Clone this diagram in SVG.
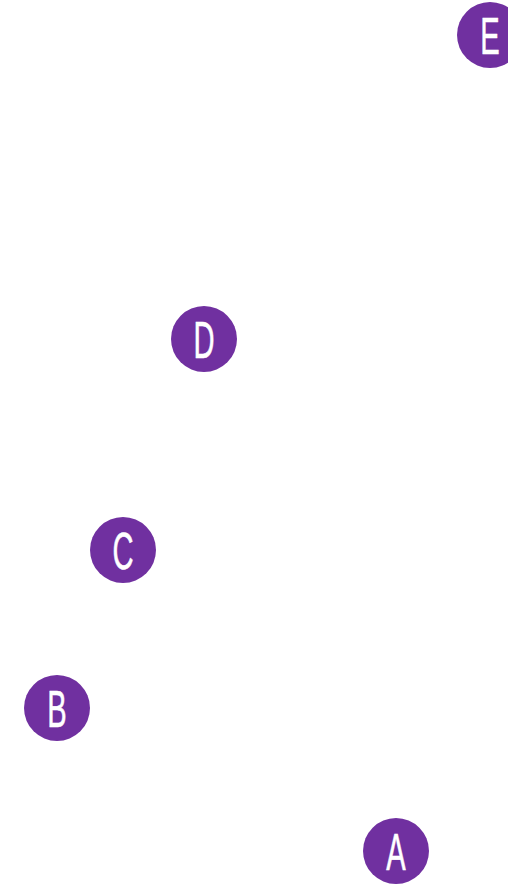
<svg xmlns="http://www.w3.org/2000/svg" width="508" height="884" viewBox="0 0 508 884">
<style>
.n{fill:#7030a0}
.t{fill:#fff;stroke:#fff;stroke-width:0.6px;font-family:"Liberation Sans",Arial,sans-serif;font-size:52px;text-anchor:middle}
</style>
<rect width="508" height="884" fill="#fff"/>
<g id="connectors"></g>
<g id="E"><circle class="n" cx="490" cy="35" r="33"/><text class="t" transform="translate(490,54) scale(0.56,1)">E</text></g>
<g id="D"><circle class="n" cx="204" cy="339" r="33"/><text class="t" transform="translate(204,358) scale(0.56,1)">D</text></g>
<g id="C"><circle class="n" cx="123" cy="550" r="33"/><text class="t" transform="translate(123,569) scale(0.56,1)">C</text></g>
<g id="B"><circle class="n" cx="57" cy="708" r="33"/><text class="t" transform="translate(57,727) scale(0.56,1)">B</text></g>
<g id="A"><circle class="n" cx="396" cy="851" r="33"/><text class="t" transform="translate(396,870) scale(0.56,1)">A</text></g>
</svg>
